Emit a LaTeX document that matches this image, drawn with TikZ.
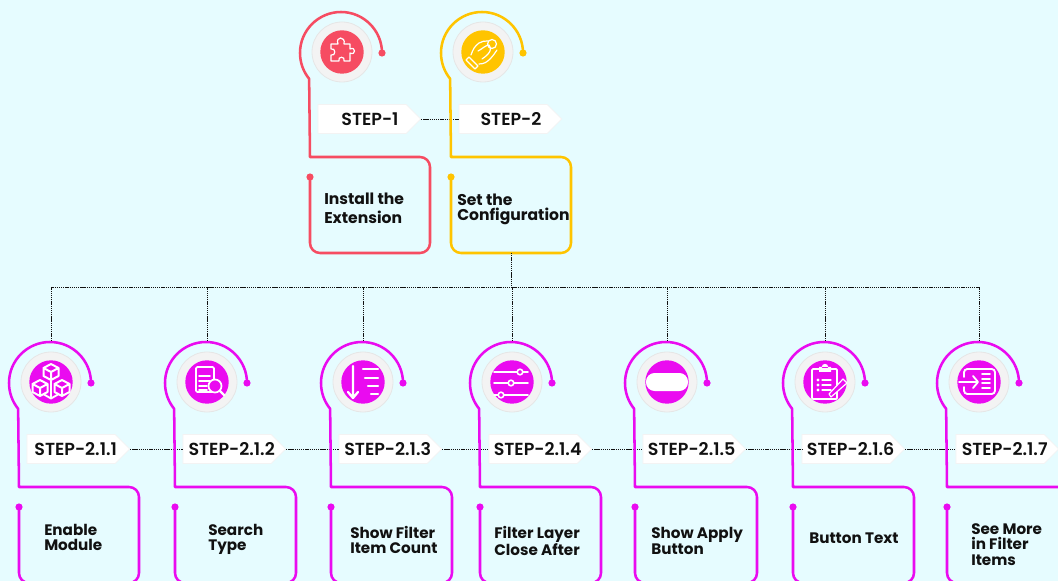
\documentclass[tikz,border=0pt]{standalone}
\usepackage{fontspec}
\setmainfont{Poppins}[BoldFont={Poppins Bold}]
\newfontfamily\pmed{Poppins SemiBold}
\usetikzlibrary{shapes.symbols}
\definecolor{bgc}{HTML}{E6FCFF}
\definecolor{redc}{HTML}{F64C62}
\definecolor{yelc}{HTML}{FFC400}
\definecolor{magc}{HTML}{EA0BF0}
\definecolor{ringc}{HTML}{F3F3F3}
\definecolor{ringe}{HTML}{E6E6E6}
\definecolor{inkc}{HTML}{111111}
\newcommand{\tagtxt}[2]{\makebox[0pt]{\hspace{#1}#2}}
\tikzset{
  tagbox/.style={signal,signal to=east,signal from=nowhere,signal pointer angle=90,fill=white,draw=ringc,line width=.5pt,
    minimum width=77pt,minimum height=21.75pt,inner sep=0pt,text=inkc,font=\pmed\fontsize{13.1pt}{15pt}\selectfont},
  lbl/.style={anchor=west,align=left,inner sep=0pt,text=inkc},
  lblA/.style={lbl,font=\bfseries\fontsize{11.7pt}{14.3pt}\selectfont},
  lblB/.style={lbl,font=\bfseries\fontsize{11.7pt}{11.8pt}\selectfont},
  lblC/.style={lbl,font=\bfseries\fontsize{11.4pt}{11.8pt}\selectfont},
  dotline/.style={draw=inkc,line width=.6pt,dash pattern=on 1pt off .6pt},
  unitline/.style={line width=1.9pt,line cap=round,line join=round},
  ico/.style={draw=white,line width=.9pt,line join=round,line cap=round},
  icoB/.style={draw=white,line width=1.4pt,line join=round,line cap=round},
}
\newcommand{\IcoPuzzle}{\draw[ico] (-11,-8) -- (-4,-8) .. controls (-7,-16) and (4,-16) .. (2,-8) -- (8,-8) -- (8,-3) .. controls (14,-6) and (14,4) .. (8,1) -- (8,9) -- (2,9) .. controls (4,4) and (-5,4) .. (-3,9) -- (-11,9) -- (-11,3) .. controls (-6,5) and (-6,-5) .. (-11,-3) -- cycle;}
\newcommand{\IcoHand}{\draw[ico] (-17,8) -- (-8,17) -- (-5,14) -- (-14,5) -- cycle;
  \draw[ico] (-12,3) .. controls (-10,-3) and (-8,-6) .. (-4,-9) .. controls (-1,-11) and (2,-11) .. (5,-11);
  \draw[ico] (-4,12) .. controls (1,12) and (4,10) .. (7,7) .. controls (10,4) and (12,1) .. (14,-2);
  \draw[ico] (-5,-1) .. controls (-1,-3) and (3,-7) .. (6,-7) .. controls (8,-4) and (8,-1) .. (5,2);
  \draw[ico] (5,2) .. controls (3,4) and (1,6) .. (-1,7);
  \draw[ico] (9,-8) circle[radius=4.5];}
\newcommand{\IcoCubes}{\foreach \hx/\hy in {0/-10,-11/6,11/6}{
   \draw[icoB,line width=1.5pt,shift={(\hx,\hy)}] (0,-8) -- (7.5,-4) -- (7.5,4) -- (0,8) -- (-7.5,4) -- (-7.5,-4) -- cycle (-7.5,-4) -- (0,0) -- (7.5,-4) (0,0) -- (0,8);}
   \draw[icoB] (0,-1) -- (0,15) (-7,12.5) -- (0,16.5) -- (7,12.5);}
\newcommand{\IcoSearch}{\draw[icoB,rounded corners=1pt] (-11,-15) -- (7,-15) -- (7,10) -- (-11,10)-- cycle;
  \foreach \ly/\lx in {-6/3,-1/3,4/0,8/0}{\draw[icoB] (-8,\ly) -- (\lx,\ly);}
  \draw[ico,line width=1.3pt,fill=magc] (8,4) circle[radius=6.5];
  \draw[icoB,line width=1.8pt] (13,9) -- (17,13);}
\newcommand{\IcoSort}{\draw[icoB,line width=1.7pt] (-10,-16) -- (-10,16) (-15,10) -- (-10,16) -- (-5,10);
  \foreach \ly/\lx in {-13/0,-4/2,4/5,12/8}{\draw[icoB,line width=1.7pt] (\lx,\ly) -- (15,\ly);}}
\newcommand{\IcoSlide}{\foreach \ly/\lx in {-10/8,1/-1,13/-11}{
   \draw[icoB] (-18,\ly) -- (16,\ly);
   \draw[ico,line width=1.2pt,fill=magc] (\lx,\ly) circle[radius=2.8];}}
\newcommand{\IcoButton}{\fill[white,rounded corners=6.5pt] (-21,-9) rectangle (21,9);}
\newcommand{\IcoClip}{\draw[icoB,rounded corners=.8pt] (-13,-13) rectangle (12,17);
  \fill[white] (-6,-15) rectangle (6,-10) (0,-15) circle[radius=3.2];
  \foreach \ly in {-2,3,8}{\fill[white] (-7,\ly) circle[radius=1.7]; \draw[ico] (-3,\ly) -- (6,\ly);}
  \draw[ico,fill=magc] (4,12) -- (6,15) -- (22,1) -- (18,-3) -- cycle;}
\newcommand{\IcoEnter}{\draw[icoB,rounded corners=2.5pt] (-15,-5) -- (-15,-13) -- (16,-13) -- (16,12) -- (-15,12) -- (-15,5);
  \draw[icoB] (-20,0) -- (-2,0) (-6,-6) -- (-1,0) -- (-6,6);
  \foreach \ly in {-8,-3,1,6}{\draw[icoB] (3,\ly) -- (11,\ly);}}
% #1 id, #2 cx, #3 cy, #4 box right, #5 colour, #6 icon
\newcommand{\stepunit}[6]{%
  \coordinate (top#1) at (#2,#3-41);
  \draw[unitline,#5] (#2+40,#3+1) arc[start angle=0,end angle=-219,radius=41] -- (#2-32,#3+105)
     [rounded corners=7.5pt] -- (#4,#3+105) -- (#4,#3+201) -- (#2-32,#3+201) -- (#2-32,#3+125);
  \fill[#5] (#2+40,#3+1) circle[radius=3.6];
  \fill[#5] (#2-32,#3+125) circle[radius=3.6];
  \fill[ringc,draw=ringe,line width=.6pt] (#2,#3) circle[radius=30];
  \fill[#5] (#2,#3) circle[radius=21.7];
  \begin{scope}[shift={(#2,#3)}]#6\end{scope}
}
\begin{document}
\begin{tikzpicture}[x=.75pt,y=-.75pt]
\useasboundingbox (0,0) rectangle (1058,581);
\clip (0,0) rectangle (1058,581);
\fill[bgc] (0,0) rectangle (1058,581);
% tags
\node[tagbox] (t1) at (362,119) {\tagtxt{12pt}{STEP-1}};
\node[tagbox] (t2) at (503,119) {\tagtxt{12pt}{STEP-2}};
\node[tagbox] (ta) at (71,449) {\tagtxt{7pt}{STEP-2.1.1}};
\node[tagbox] (tb) at (227,449) {\tagtxt{7pt}{STEP-2.1.2}};
\node[tagbox] (tc) at (383,449) {\tagtxt{7pt}{STEP-2.1.3}};
\node[tagbox] (td) at (533,449) {\tagtxt{7pt}{STEP-2.1.4}};
\node[tagbox] (te) at (687,449) {\tagtxt{7pt}{STEP-2.1.5}};
\node[tagbox] (tf) at (846,449) {\tagtxt{7pt}{STEP-2.1.6}};
\node[tagbox] (tg) at (1000,449) {\tagtxt{7pt}{STEP-2.1.7}};
\draw[dotline] (t1.east) -- (t2.west);
\draw[dotline] (ta.east) -- (tb.west);
\draw[dotline] (tb.east) -- (tc.west);
\draw[dotline] (tc.east) -- (td.west);
\draw[dotline] (td.east) -- (te.west);
\draw[dotline] (te.east) -- (tf.west);
\draw[dotline] (tf.east) -- (tg.west);
% units
\stepunit{u}{342}{52}{430}{redc}{\IcoPuzzle}
\stepunit{v}{483}{52}{571}{yelc}{\IcoHand}
\stepunit{a}{51}{382}{139}{magc}{\IcoCubes}
\stepunit{b}{207}{382}{296}{magc}{\IcoSearch}
\stepunit{c}{363}{382}{452}{magc}{\IcoSort}
\stepunit{d}{512}{382}{601}{magc}{\IcoSlide}
\stepunit{e}{667}{382}{757}{magc}{\IcoButton}
\stepunit{f}{825}{382}{914}{magc}{\IcoClip}
\stepunit{g}{979}{382}{1070}{magc}{\IcoEnter}
% tree
\coordinate (cfgb) at (511,253);
\coordinate (bus) at (511,287);
\draw[dotline] (cfgb) -- (bus);
\draw[dotline] (topa) -- (topa |- bus) -- (topg |- bus) -- (topg);
\draw[dotline] (topb) -- (topb |- bus);
\draw[dotline] (topc) -- (topc |- bus);
\draw[dotline] (topd) -- (topd |- bus);
\draw[dotline] (tope) -- (tope |- bus);
\draw[dotline] (topf) -- (topf |- bus);
% labels
\node[lblA] (l1) at (324,208) {Install the\\Extension};
\node[lblB] (l2) at (457,209.5) {Set the\\Configuration};
\node[lblC] (la) at (44,537.5) {Enable\\Module};
\node[lblC] (lb) at (208,539.5) {Search\\Type};
\node[lblC] (lc) at (350,540) {Show Filter\\Item Count};
\node[lblC] (ld) at (494,541) {Filter Layer\\Close After};
\node[lblC] (le) at (651,541) {Show Apply\\Button};
\node[lblC] (lf) at (809,538.5) {Button Text};
\node[lblC] (lg) at (971,544.5) {See More\\in Filter\\Items};
\end{tikzpicture}
\end{document}
